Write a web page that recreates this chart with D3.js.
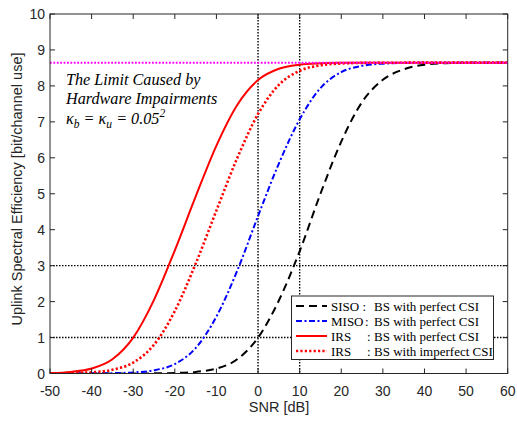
<!DOCTYPE html>
<html>
<head>
<meta charset="utf-8">
<script src="https://cdn.jsdelivr.net/npm/d3@7"></script>
<style>
  html, body { margin: 0; padding: 0; background: #fff; }
  svg { display: block; }
</style>
</head>
<body>
<svg id="chart" width="517" height="422"></svg>
<script>
// ---- data ----
const snrDb = [-50,-45,-40,-35,-30,-25,-20,-15,-10,-5,0,5,10,15,20,25,30,35,40,45,50,55,60];
const sisoPerfect   = [0.00,0.00,0.00,0.00,0.00,0.005,0.015,0.045,0.137,0.396,0.998,2.03,3.40,5.00,6.45,7.55,8.17,8.46,8.59,8.63,8.642,8.646,8.647];
const misoPerfect   = [0.00,0.001,0.003,0.009,0.029,0.089,0.263,0.707,1.583,2.86,4.38,5.84,7.07,7.94,8.384,8.559,8.619,8.639,8.644,8.646,8.647,8.647,8.647];
const irsPerfect    = [0.014,0.045,0.137,0.396,0.998,2.049,3.427,4.92,6.34,7.47,8.163,8.476,8.591,8.629,8.642,8.646,8.647,8.647,8.647,8.647,8.647,8.647,8.647];
const irsImperfect  = [0.003,0.011,0.034,0.103,0.304,0.801,1.738,3.052,4.536,5.993,7.219,8.028,8.421,8.572,8.623,8.640,8.645,8.646,8.647,8.647,8.647,8.647,8.647];
const hwLimit = 8.647;
const refX = [0, 10];
const refY = [1, 3];
const xTicks = [-50,-40,-30,-20,-10,0,10,20,30,40,50,60];
const yTicks = [0,1,2,3,4,5,6,7,8,9,10];
const legendNames = ["SISO", "MISO", "IRS", "IRS"];
const legendRest = ["BS with perfect CSI", "BS with perfect CSI", "BS with perfect CSI", "BS with imperfect CSI"];

// ---- layout ----
const svg = d3.select("#chart");
const L = 50, R = 507.7, T = 14, B = 373.5;
const x = d3.scaleLinear().domain([-50, 60]).range([L, R]);
const y = d3.scaleLinear().domain([0, 10]).range([B, T]);
const axisColor = "#262626";

svg.append("defs").append("clipPath").attr("id", "clip")
  .append("rect").attr("x", L).attr("y", T).attr("width", R - L).attr("height", B - T);

const plot = svg.append("g").attr("clip-path", "url(#clip)");

// reference dotted lines
refX.forEach(v => {
  plot.append("line").attr("x1", x(v)).attr("x2", x(v)).attr("y1", T).attr("y2", B)
    .attr("stroke", "#000").attr("stroke-width", 1.4).attr("stroke-dasharray", "1.5,1.5");
});
refY.forEach(v => {
  plot.append("line").attr("x1", L).attr("x2", R).attr("y1", y(v)).attr("y2", y(v))
    .attr("stroke", "#000").attr("stroke-width", 1.4).attr("stroke-dasharray", "1.5,1.5");
});

const series = [
  { data: sisoPerfect,  color: "#000000", dash: "8,5", width: 2 },
  { data: misoPerfect,  color: "#0000ff", dash: "6,2.5,2,2.5", width: 2 },
  { data: irsPerfect,   color: "#ff0000", dash: null, width: 2 },
  { data: irsImperfect, color: "#ff0000", dash: "2.2,2.2", width: 2.6 }
];

const line = d3.line().x((d, i) => x(snrDb[i])).y(d => y(d)).curve(d3.curveMonotoneX);

series.forEach(s => {
  const p = plot.append("path").datum(s.data).attr("d", line)
    .attr("fill", "none").attr("stroke", s.color).attr("stroke-width", s.width);
  if (s.dash) p.attr("stroke-dasharray", s.dash);
});

// hardware limit
plot.append("line").attr("x1", L).attr("x2", R).attr("y1", y(hwLimit)).attr("y2", y(hwLimit))
  .attr("stroke", "#ff00ff").attr("stroke-width", 2).attr("stroke-dasharray", "1.8,1.6");

// ---- axes (box with inner ticks) ----
const ax = svg.append("g");
ax.append("rect").attr("x", L).attr("y", T).attr("width", R - L).attr("height", B - T)
  .attr("fill", "none").attr("stroke", axisColor).attr("stroke-width", 1);

const tickLen = 5;
xTicks.forEach(v => {
  ax.append("line").attr("x1", x(v)).attr("x2", x(v)).attr("y1", B).attr("y2", B - tickLen).attr("stroke", axisColor);
  ax.append("line").attr("x1", x(v)).attr("x2", x(v)).attr("y1", T).attr("y2", T + tickLen).attr("stroke", axisColor);
  ax.append("text").attr("x", x(v)).attr("y", 396).attr("text-anchor", "middle")
    .attr("font-family", "'Liberation Sans', Arial, sans-serif").attr("font-size", 14)
    .attr("fill", axisColor).text(v);
});
yTicks.forEach(v => {
  ax.append("line").attr("x1", L).attr("x2", L + tickLen).attr("y1", y(v)).attr("y2", y(v)).attr("stroke", axisColor);
  ax.append("line").attr("x1", R).attr("x2", R - tickLen).attr("y1", y(v)).attr("y2", y(v)).attr("stroke", axisColor);
  ax.append("text").attr("x", 45).attr("y", y(v) + 5).attr("text-anchor", "end")
    .attr("font-family", "'Liberation Sans', Arial, sans-serif").attr("font-size", 14)
    .attr("fill", axisColor).text(v);
});

svg.append("text").attr("x", 279).attr("y", 412).attr("text-anchor", "middle")
  .attr("font-family", "'Liberation Sans', Arial, sans-serif").attr("font-size", 14.5)
  .attr("fill", axisColor).text("SNR [dB]");
svg.append("text").attr("transform", "translate(22,189) rotate(-90)").attr("text-anchor", "middle")
  .attr("font-family", "'Liberation Sans', Arial, sans-serif").attr("font-size", 14.5)
  .attr("fill", axisColor).text("Uplink Spectral Efficiency [bit/channel use]");

// ---- annotation ----
const serif = "'Liberation Serif', 'DejaVu Serif', serif";
const ann = svg.append("g").attr("font-family", serif).attr("font-style", "italic")
  .attr("font-size", 16.2).attr("fill", "#000");
ann.append("text").attr("x", 66).attr("y", 85).text("The Limit Caused by");
ann.append("text").attr("x", 66).attr("y", 103.5).text("Hardware Impairments");
const k = ann.append("text").attr("x", 66).attr("y", 124);
k.append("tspan").text("\u03BA");
k.append("tspan").attr("font-size", 11.5).attr("dy", 4).text("b");
k.append("tspan").attr("dy", -4).text(" = \u03BA");
k.append("tspan").attr("font-size", 11.5).attr("dy", 4).text("u");
k.append("tspan").attr("dy", -4).text(" = 0.05");
k.append("tspan").attr("font-size", 11.5).attr("dy", -7).text("2");

// ---- legend ----
const lg = svg.append("g");
lg.append("rect").attr("x", 291.5).attr("y", 296).attr("width", 202).attr("height", 63.5)
  .attr("fill", "#fff").attr("stroke", axisColor).attr("stroke-width", 1);
const rowY = [306, 321, 336, 351];
const colonX = [362.5, 365, 367, 367];
series.forEach((s, i) => {
  const l = lg.append("line").attr("x1", 296).attr("x2", 327).attr("y1", rowY[i]).attr("y2", rowY[i])
    .attr("stroke", s.color).attr("stroke-width", s.width);
  if (s.dash) l.attr("stroke-dasharray", s.dash);
  const g = lg.append("g").attr("font-family", serif).attr("font-size", 13).attr("fill", "#000");
  g.append("text").attr("x", 331).attr("y", rowY[i] + 4.5).text(legendNames[i]);
  g.append("text").attr("x", colonX[i]).attr("y", rowY[i] + 4.5).text(":");
  g.append("text").attr("x", 374).attr("y", rowY[i] + 4.5).text(legendRest[i]);
});
</script>
</body>
</html>
